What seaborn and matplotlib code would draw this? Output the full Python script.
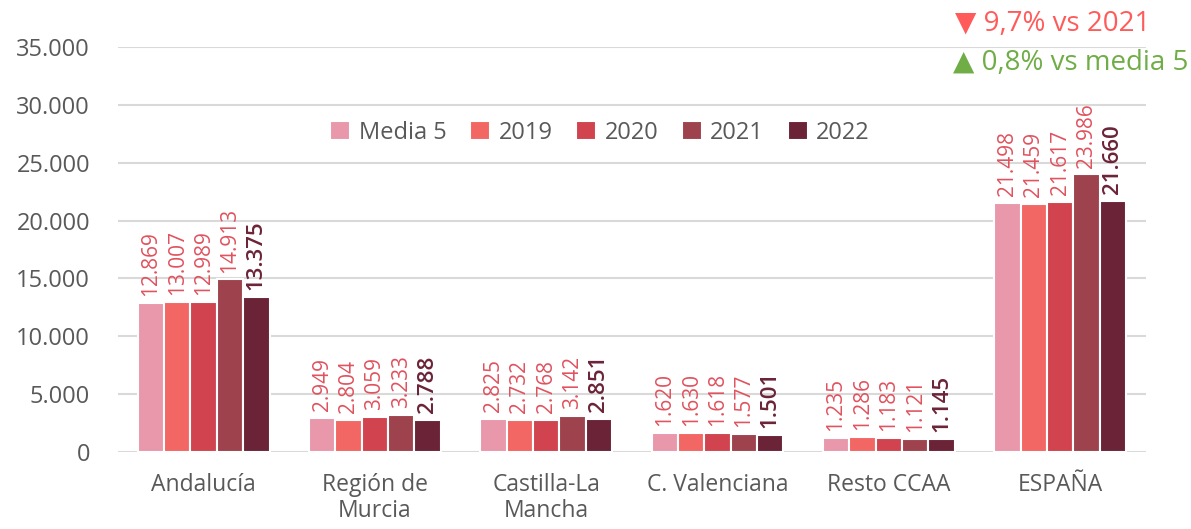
import pandas as pd
import matplotlib.pyplot as plt
import seaborn as sns

# Datos del gráfico
regiones = ['Andalucía', 'Región de\nMurcia', 'Castilla-La\nMancha',
            'C. Valenciana', 'Resto CCAA', 'ESPAÑA']
series = ['Media 5', '2019', '2020', '2021', '2022']
media5 = [12869, 2949, 2825, 1620, 1235, 21498]
v2019 = [13007, 2804, 2732, 1630, 1286, 21459]
v2020 = [12989, 3059, 2768, 1618, 1183, 21617]
v2021 = [14913, 3233, 3142, 1577, 1121, 23986]
v2022 = [13375, 2788, 2851, 1501, 1145, 21660]

colores = ['#E898AA', '#F26763', '#D1444F', '#9E434E', '#6B2337']
gris = '#595959'

# Tabla larga para seaborn
filas = []
for serie, valores in zip(series, [media5, v2019, v2020, v2021, v2022]):
    for reg, v in zip(regiones, valores):
        filas.append({'Region': reg, 'Serie': serie, 'Valor': v})
df = pd.DataFrame(filas)

sns.set_style('white')
plt.rcParams['font.family'] = ['Open Sans', 'DejaVu Sans']

fig = plt.figure(figsize=(11.91, 5.29), dpi=100)
ax = fig.add_axes([0.099, 0.1456, 0.863, 0.7654])

sns.barplot(data=df, x='Region', y='Valor', hue='Serie', palette=colores,
            saturation=1, width=0.77, edgecolor='white', linewidth=1.5, ax=ax)

def fmt(v):
    return f'{v:,.0f}'.replace(',', '.')

# Etiquetas de valor
for i, cont in enumerate(ax.containers):
    ultimo = i == len(ax.containers) - 1
    for barra in cont:
        h = barra.get_height()
        ax.annotate(fmt(h), (barra.get_x() + barra.get_width() / 2, h),
                    xytext=(0, 5), textcoords='offset points',
                    rotation=90, ha='center', va='bottom',
                    fontsize=16 if ultimo else 15,
                    color=colores[4] if ultimo else '#E0525E',
                    fontweight='semibold' if ultimo else 'normal',
                    annotation_clip=False)

ax.set_ylim(0, 35000)
ax.set_yticks(range(0, 35001, 5000))
ax.set_yticklabels([fmt(t) for t in range(0, 35001, 5000)])
ax.yaxis.grid(True, color='#D9D9D9', linewidth=1.5)
ax.set_axisbelow(True)
sns.despine(left=True, bottom=True)
ax.tick_params(axis='y', length=0, labelsize=17, labelcolor=gris, pad=20)
ax.tick_params(axis='x', length=0, labelsize=16.5, labelcolor=gris, pad=15)
ax.set_xlabel('')
ax.set_ylabel('')
for lab in ax.get_xticklabels():
    lab.set_va('top')
    lab.set_linespacing(1.1)

ax.legend(loc='center', bbox_to_anchor=(0.469, 0.788), ncol=5,
          frameon=False, fontsize=17, handlelength=0.85, handleheight=0.85,
          handletextpad=0.35, columnspacing=1.0, labelcolor=gris)

# Variaciones arriba a la derecha
fig.text(0.966, 0.955, '▼ 9,7% vs 2021', color='#FF5B5B', fontsize=20,
         ha='right', va='center')
fig.text(0.998, 0.88, '▲ 0,8% vs media 5', color='#70AD47', fontsize=20,
         ha='right', va='center')

plt.savefig('out.png', dpi=100)
